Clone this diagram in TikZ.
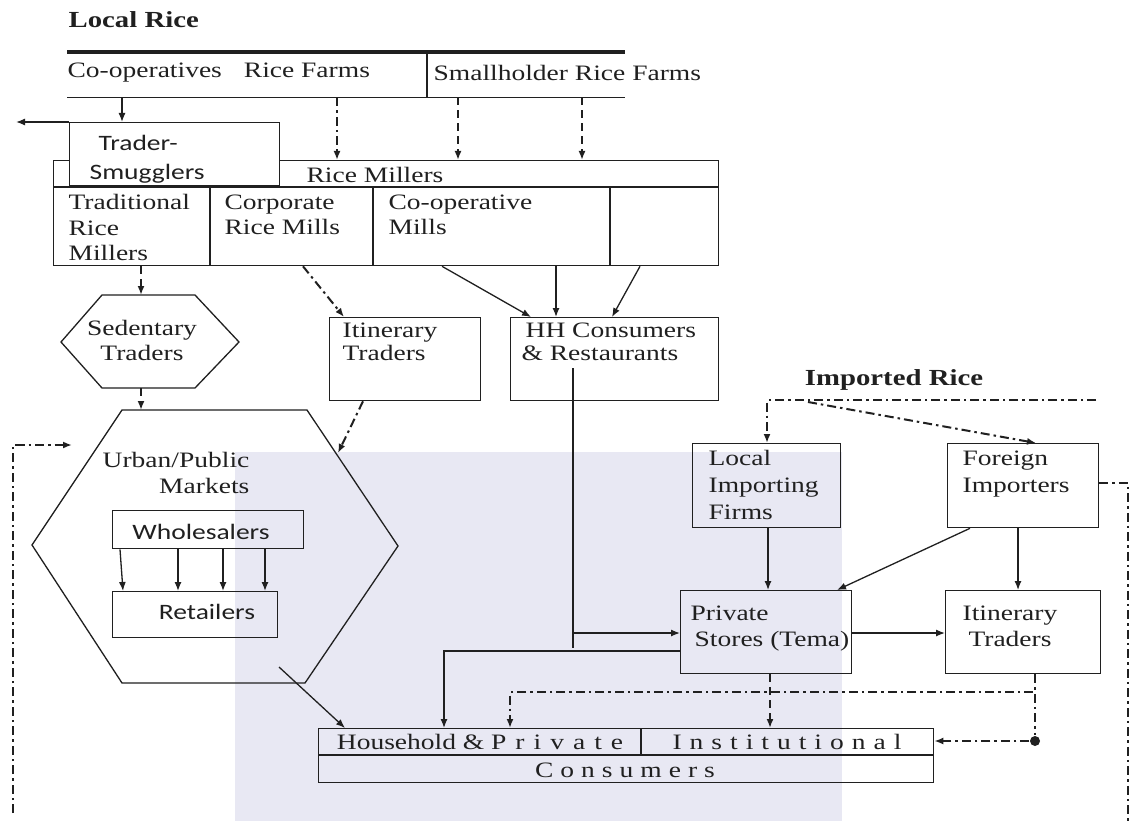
\documentclass[tikz,border=0pt]{standalone}
\usepackage{fontspec}
\setmainfont{Liberation Serif}[FakeStretch=1.25]
\newfontfamily\calib{Carlito}[FakeStretch=1.25]
\usetikzlibrary{arrows.meta,calc}
\definecolor{ink}{RGB}{32,32,32}
\definecolor{wm}{RGB}{232,232,243}
\newcommand\lgap{\kern8pt}
\newcommand\lgapb{\kern9pt}
\begin{document}
\begin{tikzpicture}[x=1pt,y=-1pt,line width=1.3pt,
  box/.style={draw=ink,line width=1.3pt,rectangle,inner sep=0pt,anchor=north west},
  txt/.style={inner sep=0pt,align=left,anchor=north west,text=ink,font=\fontsize{22}{26}\selectfont},
  sans/.style={font=\calib\fontsize{22}{29}\selectfont},
  ttl/.style={inner sep=0pt,text=ink,font=\bfseries\fontsize{23}{26}\selectfont},
  arr/.style={draw=ink,-{Latex[length=9pt,width=7pt]}},
  dd/.style={draw=ink,line width=2pt,dash pattern=on 9pt off 4pt on 2.5pt off 4pt},
  dsh/.style={draw=ink,line width=2.2pt,dash pattern=on 8pt off 5pt},
]
\useasboundingbox (0,0) rectangle (1131,821);
\fill[white] (0,0) rectangle (1131,821);
% watermark background
\fill[wm] (235,452) rectangle (842,821);

% ---------- titles ----------
\node[ttl,anchor=west] (tlocal) at (68,20) {Local Rice};
\node[ttl,anchor=center] (timp) at (894,380) {Imported Rice};

% ---------- farms band ----------
\node[inner sep=0pt,minimum width=557pt,minimum height=44pt,anchor=north west] (farms) at (67,52) {};
\draw[ink,line width=3.5pt] (farms.north west) -- (farms.north east);
\draw[ink,line width=1.4pt] (farms.south west) -- (farms.south east);
\draw[ink] (427,0 |- farms.north) -- (427,0 |- farms.south);
\node[txt,anchor=west] (coop) at (67,73) {Co-operatives\hspace{22pt}Rice Farms};
\node[txt,anchor=west] (small) at (433,73) {Smallholder Rice Farms};

% ---------- rice millers ----------
\node[box,minimum width=665pt,minimum height=105pt] (rm) at (53,160) {};
\draw[ink] (53,187) -- (718,187);
\draw[ink] (210,187) -- (210,0 |- rm.south);
\draw[ink] (373,187) -- (373,0 |- rm.south);
\draw[ink] (610,187) -- (610,0 |- rm.south);
\node[txt,anchor=center] (rmt) at (375,175) {Rice Millers};
\node[txt,font=\fontsize{22}{25.5}\selectfont] (trad) at (68,194) {Traditional\\Rice\\Millers};
\node[txt,font=\fontsize{22}{25.5}\selectfont] (corp) at (224,194) {Corporate\\Rice Mills};
\node[txt,font=\fontsize{22}{25.5}\selectfont] (coopm) at (388,194) {Co-operative\\Mills};

% ---------- trader-smugglers ----------
\node[box,fill=white,minimum width=210pt,minimum height=63pt] (trader) at (69,122) {};
\node[txt,sans] (tradert) at (89,135) {\hspace*{9pt}Trader-\\Smugglers};
\coordinate (exitL) at (16,122);

% ---------- sedentary hexagon ----------
\coordinate (s1) at (61,342);
\coordinate (s2) at (102,295);
\coordinate (s3) at (195,295);
\coordinate (s4) at (239,342);
\coordinate (s5) at (195,388);
\coordinate (s6) at (102,388);
\draw[ink] (s1) -- (s2) -- (s3) -- (s4) -- (s5) -- (s6) -- cycle;
\coordinate (sedtop) at (141,295);
\coordinate (sedbot) at (141,388);
\node[txt,align=center,anchor=north,font=\fontsize{22}{25}\selectfont] (sedt) at (142,320) {Sedentary\\Traders};

% ---------- itinerary (local) & HH ----------
\node[box,minimum width=151pt,minimum height=83pt] (itl) at (329,317) {};
\node[txt,font=\fontsize{22}{23.5}\selectfont] (itlt) at (342,322) {Itinerary\\Traders};
\node[box,minimum width=208pt,minimum height=83pt] (hh) at (510,317) {};
\node[txt,font=\fontsize{22}{23.5}\selectfont] (hht) at (521,322) {\hspace*{4pt}HH Consumers\\\& Restaurants};

% ---------- urban hexagon ----------
\coordinate (u1) at (32,545);
\coordinate (u2) at (122,410);
\coordinate (u3) at (307,410);
\coordinate (u4) at (398,546);
\coordinate (u5) at (305,683);
\coordinate (u6) at (122,683);
\draw[ink] (u1) -- (u2) -- (u3) -- (u4) -- (u5) -- (u6) -- cycle;
\coordinate (urbtop) at (141,410);
\coordinate (urbR) at (338,453);
\coordinate (urbBR) at (279,667);
\node[txt,align=right,anchor=north east] (urbt) at (250,452) {Urban/Public\\Markets};
\node[box,minimum width=191pt,minimum height=38pt] (whole) at (112,510) {};
\node[txt,sans,anchor=center] (wholet) at (201,532) {Wholesalers};
\node[box,minimum width=165pt,minimum height=46pt] (retail) at (112,591) {};
\node[txt,sans,anchor=center] (retailt) at (207,612) {Retailers};

% ---------- imported side ----------
\node[box,minimum width=148pt,minimum height=84pt] (loc) at (692,443) {};
\node[txt,font=\fontsize{22}{27}\selectfont] (loct) at (708,450) {Local\\Importing\\Firms};
\node[box,minimum width=151pt,minimum height=84pt] (for) at (947,443) {};
\node[txt,font=\fontsize{22}{27}\selectfont] (fort) at (962,450) {Foreign\\Importers};
\node[box,minimum width=171pt,minimum height=83pt] (priv) at (680,590) {};
\node[txt] (privt) at (690,605) {Private\\\hspace*{4pt}Stores (Tema)};
\node[box,minimum width=155pt,minimum height=83pt] (itr) at (945,590) {};
\node[txt,align=center,anchor=north] (itrt) at (1010,605) {Itinerary\\Traders};

% ---------- consumers ----------
\node[box,minimum width=615pt,minimum height=54pt] (cons) at (318,728) {};
\draw[ink] (318,755) -- (933,755);
\draw[ink] (641,0 |- cons.north) -- (641,755);
\node[txt,anchor=center] (hpt) at (480,742) {Household \& P\lgapb r\lgapb i\lgapb v\lgapb a\lgapb t\lgapb e};
\node[txt,anchor=center] (inst) at (787,742) {I\lgap n\lgap s\lgap t\lgap i\lgap t\lgap u\lgap t\lgap i\lgap o\lgap n\lgap a\lgap l};
\node[txt,anchor=center] (const) at (625,770) {C\kern7pt o\kern7pt n\kern7pt s\kern7pt u\kern7pt m\kern7pt e\kern7pt r\kern7pt s};

\node[circle,fill=ink,inner sep=0pt,minimum size=10pt] (dot) at (1035,741) {};

% ---------- connectors ----------
\draw[arr] (122,0 |- farms.south) -- (122,0 |- trader.north);
\draw[arr] (trader.north west) -- (exitL);
\draw[dd,arr] (337,0 |- farms.south) -- (337,0 |- rm.north);
\draw[dsh,arr] (458,0 |- farms.south) -- (458,0 |- rm.north);
\draw[dsh,arr] (582,0 |- farms.south) -- (582,0 |- rm.north);

\draw[dsh,arr] (141,0 |- rm.south) -- (sedtop);
\draw[dd,arr] (303,0 |- rm.south) -- (344,0 |- itl.north);
\draw[arr] (442,0 |- rm.south) -- (531,0 |- hh.north);
\draw[arr] (556,0 |- rm.south) -- (556,0 |- hh.north);
\draw[arr] (640,0 |- rm.south) -- (612,0 |- hh.north);

\draw[dsh,arr] (sedbot) -- (urbtop);
\draw[dd,arr] (363,0 |- itl.south) -- (urbR);

\draw[arr] (120,0 |- whole.south) -- (123,0 |- retail.north);
\draw[arr] (178,0 |- whole.south) -- (178,0 |- retail.north);
\draw[arr] (223,0 |- whole.south) -- (223,0 |- retail.north);
\draw[arr] (265,0 |- whole.south) -- (265,0 |- retail.north);

\draw[arr] (urbBR) -- (345,0 |- cons.north);

\coordinate (hhin) at (573,368);
\coordinate (hhend) at (573,648);
\draw[ink] (hhin) -- (hhend);
\draw[arr] (573,633) -- (priv.west |- 0,633);
\draw[arr] (priv.west |- 0,651) -| (444,0 |- cons.north);
\draw[dsh,arr] (770,0 |- priv.south) -- (770,0 |- cons.north);
\draw[arr] (priv.east |- 0,633) -- (itr.west |- 0,633);

\draw[arr] (768,0 |- loc.south) -- (768,0 |- priv.north);
\draw[arr] (970,0 |- for.south) -- (837,0 |- priv.north);
\draw[arr] (1018,0 |- for.south) -- (1018,0 |- itr.north);

\coordinate (impR) at (1096,400);
\coordinate (impL) at (808,402);
\draw[dd,arr] (impR) -| (767,0 |- loc.north);
\draw[dd,arr] (impL) -- (1036,0 |- for.north);
\coordinate (rbot) at (1128,821);
\draw[dd] (for.east |- 0,483) -| (rbot);

\draw[dd] (1035,0 |- itr.south) -- (dot);
\draw[dd,arr] (dot) -- (cons.east |- dot);
\draw[dd,arr] (1033,692) -| (510,0 |- cons.north);

\coordinate (lbot) at (13,813);
\coordinate (ltip) at (72,445);
\draw[dd,arr] (lbot) |- (ltip);
\end{tikzpicture}
\end{document}
